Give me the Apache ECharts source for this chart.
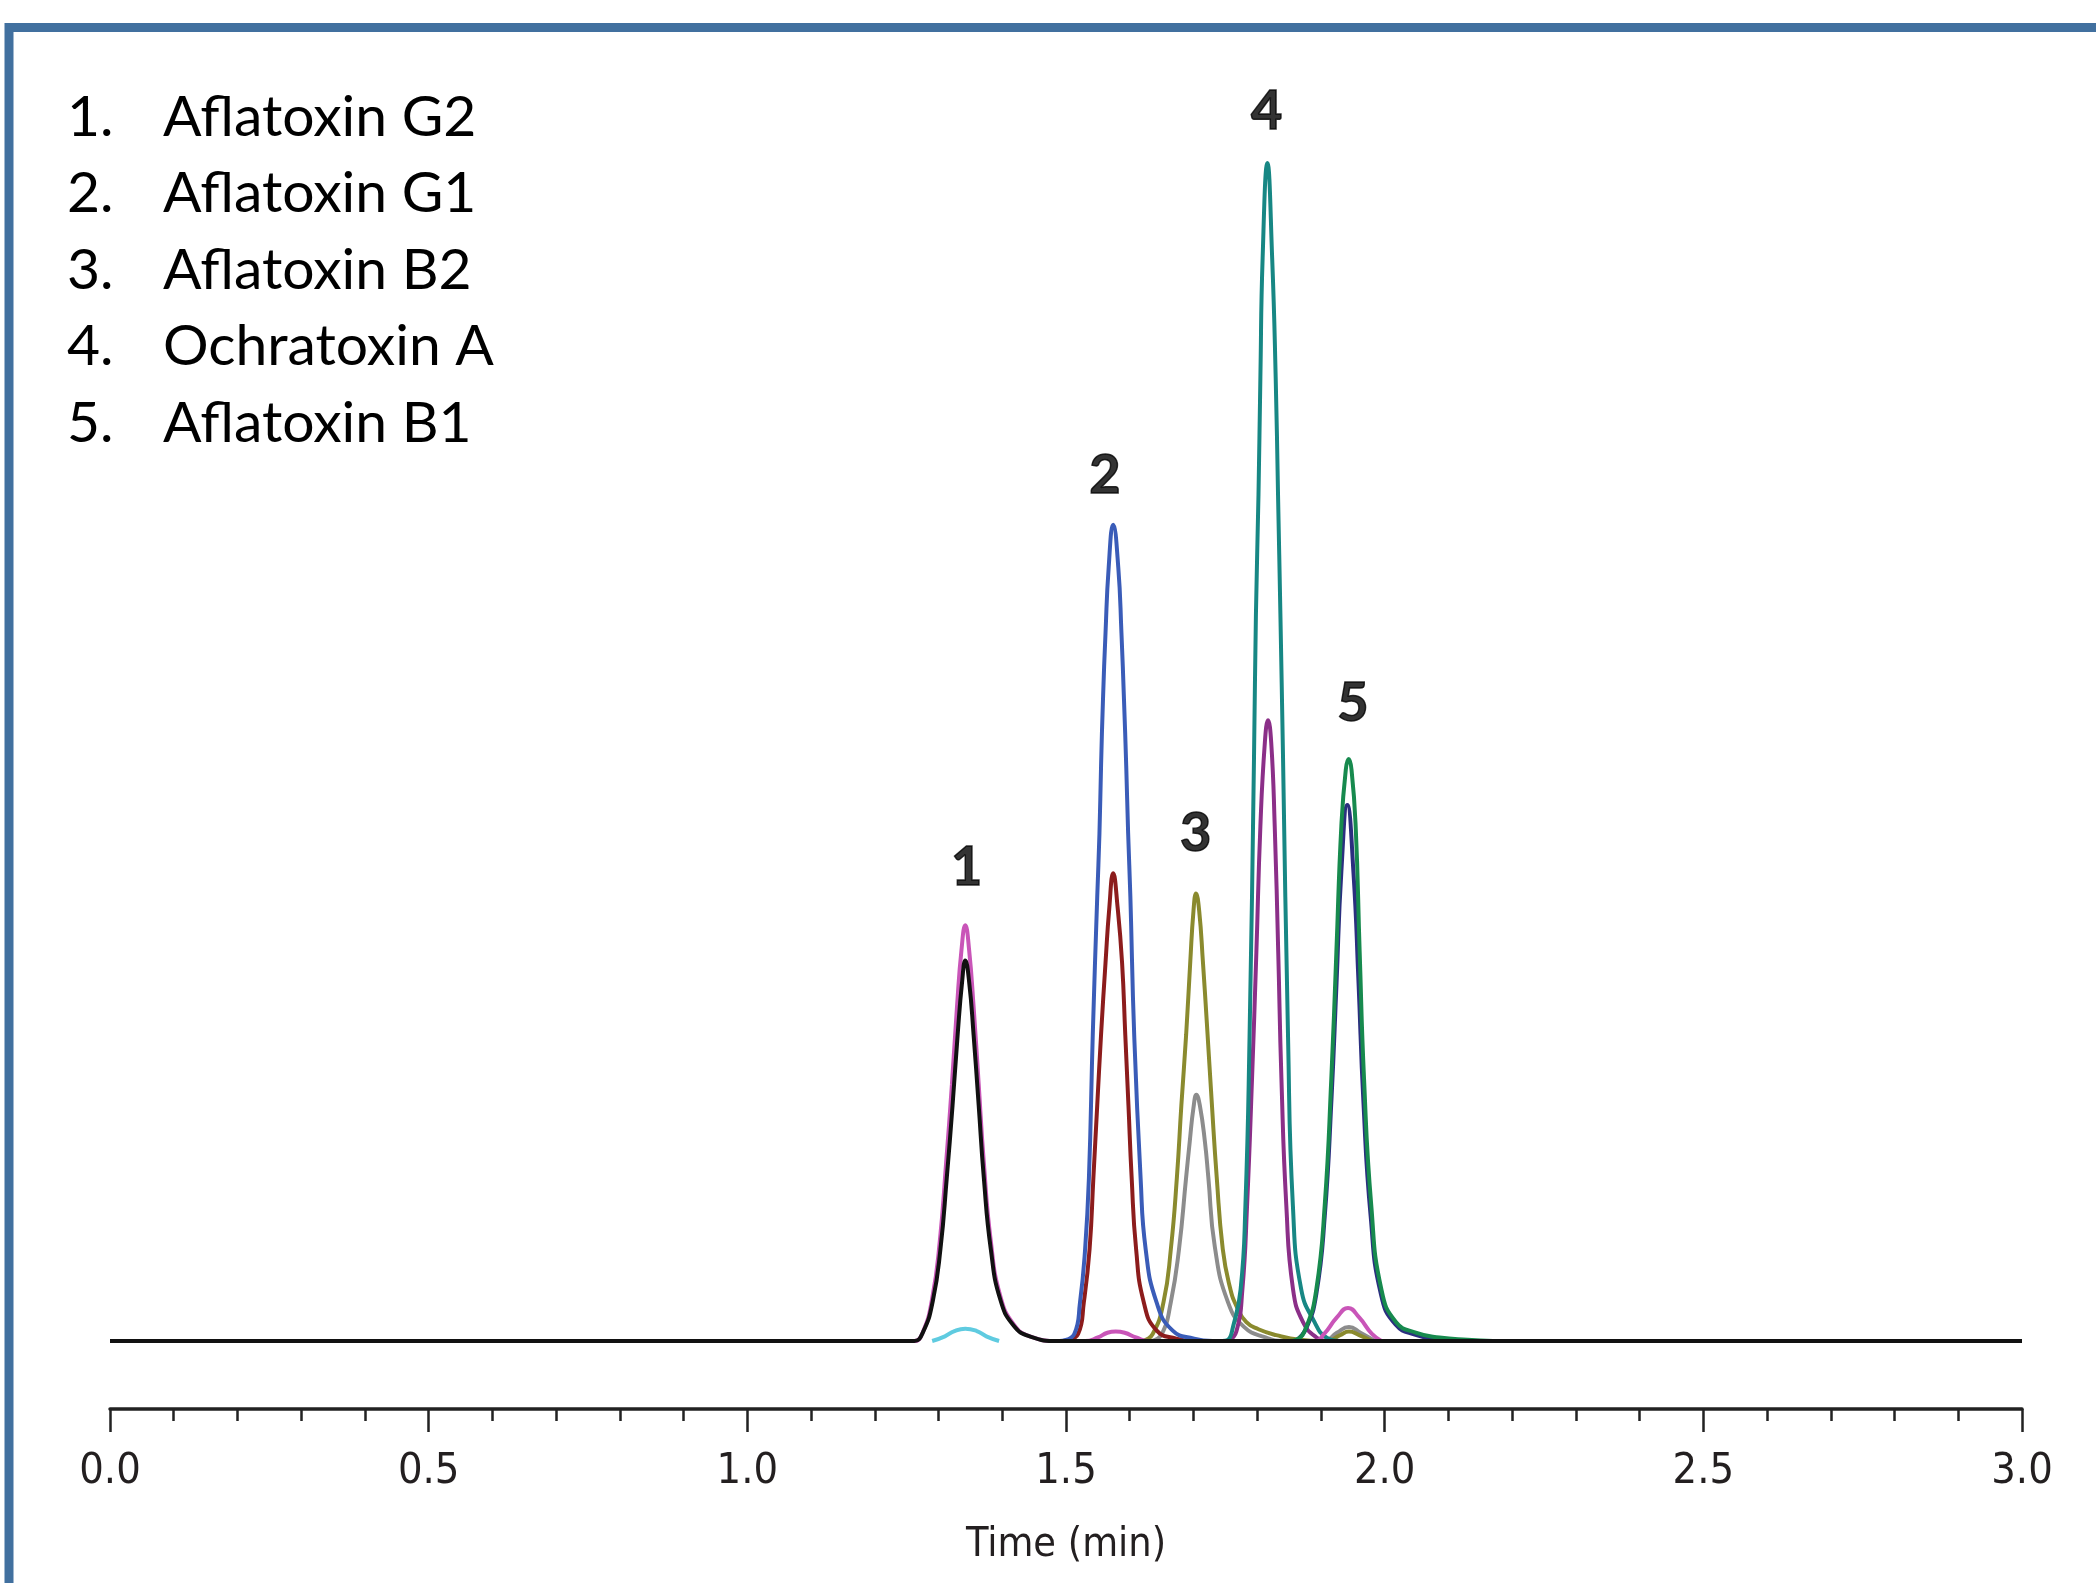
<!DOCTYPE html>
<html>
<head>
<meta charset="utf-8">
<title>Mycotoxin MRM chromatogram</title>
<script src="https://cdn.jsdelivr.net/npm/echarts@6/dist/echarts.min.js"></script>
<style>
  html, body { margin: 0; padding: 0; background: #fff; }
  #chart-box { width: 2096px; height: 1583px; }
</style>
</head>
<body>
<div id="chart-box"></div>
<script>
// peak list in the top-left corner
var peakNames = ['Aflatoxin G2', 'Aflatoxin G1', 'Aflatoxin B2', 'Ochratoxin A', 'Aflatoxin B1'];

// peak numbers, placed above each peak: [time, height, text]
var peakLabels = [[1.344, 40.2, '1'], [1.561, 73.5, '2'], [1.7035, 43.1, '3'], [1.815, 104.4, '4'], [1.950, 54.1, '5']];

// time axis (min)
var timeMin = 0, timeMax = 3, timeStep = 0.5;

// traces: [time (min), relative intensity]
var cyanTrace = [[1.29, 0], [1.31, 0.4], [1.325, 0.85], [1.342, 1.05], [1.36, 0.85], [1.375, 0.4], [1.395, 0]];
var grayTrace = [[1.635, 0], [1.6504, 0.6], [1.6645, 3.3], [1.6773, 7.8], [1.6885, 13.9], [1.6941, 16.9], [1.700, 19.8], [1.7046, 20.9], [1.710, 20.0], [1.718, 16.9], [1.7233, 13.9], [1.7335, 8.0], [1.7541, 3.3], [1.7793, 1.2], [1.813, 0.3], [1.84, 0],
  [1.905, 0], [1.925, 0.7], [1.944, 1.2], [1.962, 0.7], [1.985, 0]];
var oliveTrace = [[1.62, 0], [1.636, 0.6], [1.653, 3.3], [1.6645, 7.8], [1.674, 13.9], [1.681, 20.0], [1.6885, 26.0], [1.695, 32.2], [1.700, 36.5], [1.704, 38.0], [1.709, 36.5], [1.7148, 32.2], [1.721, 27.0], [1.729, 20.0], [1.7365, 13.9], [1.746, 7.8], [1.757, 4.6], [1.768, 2.9], [1.783, 1.6], [1.802, 1.0], [1.830, 0.5], [1.867, 0.1], [1.90, 0],
  [1.91, 0], [1.93, 0.5], [1.944, 0.8], [1.96, 0.5], [1.98, 0]];
var redTrace = [[1.495, 0], [1.519, 0.6], [1.528, 3.3], [1.537, 7.8], [1.543, 13.9], [1.549, 20.0], [1.555, 26.0], [1.562, 32.1], [1.568, 36.8], [1.574, 39.7], [1.581, 36.8], [1.588, 32.1], [1.593, 26.0], [1.598, 20.0], [1.603, 13.9], [1.610, 7.8], [1.622, 3.3], [1.642, 0.9], [1.673, 0.2], [1.70, 0]];
var blueTrace = [[1.49, 0], [1.513, 0.6], [1.522, 3.3], [1.530, 7.8], [1.536, 13.9], [1.542, 26.0], [1.549, 37.7], [1.5525, 43.1], [1.555, 48.8], [1.558, 54.4], [1.562, 60.1], [1.567, 65.7], [1.574, 69.3], [1.582, 65.7], [1.587, 60.1], [1.591, 54.4], [1.5945, 48.8], [1.5975, 43.1], [1.601, 37.7], [1.607, 26.0], [1.617, 13.9], [1.625, 7.8], [1.642, 3.3], [1.667, 0.9], [1.701, 0.2], [1.73, 0]];
var purpleTrace = [[1.755, 0], [1.7673, 0.8], [1.7768, 4.4], [1.7841, 11.5], [1.7919, 22.3], [1.7987, 33.0], [1.805, 43.7], [1.812, 50.8], [1.817, 52.7], [1.822, 50.8], [1.8275, 43.7], [1.833, 33.0], [1.838, 22.3], [1.8457, 11.5], [1.8562, 4.4], [1.8719, 1.6], [1.893, 0.3], [1.91, 0]];
var tealTrace = [[1.745, 0], [1.754, 0.1], [1.762, 1.2], [1.774, 4.4], [1.7815, 11.5], [1.788, 25.8], [1.795, 49.6], [1.798, 61.7], [1.802, 71.8], [1.805, 81.8], [1.8085, 91.9], [1.816, 100], [1.8235, 91.9], [1.829, 81.8], [1.8327, 71.8], [1.8364, 61.7], [1.8405, 49.6], [1.8484, 25.8], [1.856, 11.5], [1.869, 4.4], [1.890, 1.6], [1.9085, 0.3], [1.93, 0]];
var navyTrace = [[1.86, 0], [1.8771, 1.1], [1.8928, 4.0], [1.906, 10.6], [1.9165, 20.5], [1.9245, 30.4], [1.932, 39.8], [1.9414, 45.5], [1.951, 39.8], [1.959, 30.4], [1.9665, 20.5], [1.978, 10.6], [1.994, 4.0], [2.017, 1.4], [2.05, 0.5], [2.09, 0]];
var greenTrace = [[1.85, 0], [1.8614, 0.1], [1.8771, 1.2], [1.8928, 4.4], [1.9059, 11.5], [1.9163, 22.3], [1.9242, 33.0], [1.932, 43.7], [1.939, 48.5], [1.9435, 49.4], [1.948, 48.5], [1.9545, 43.7], [1.9608, 33.0], [1.9676, 22.3], [1.979, 11.5], [1.9948, 4.4], [2.018, 1.6], [2.05, 0.7], [2.086, 0.3], [2.13, 0.1], [2.17, 0]];
var magentaTrace = [[1.25, 0], [1.262, 0], [1.275, 0.7], [1.290, 3.6], [1.302, 8.5], [1.312, 15.2], [1.321, 21.8], [1.329, 28.4], [1.336, 33.2], [1.342, 35.3], [1.348, 33.2], [1.355, 28.4], [1.363, 21.8], [1.371, 15.2], [1.382, 8.5], [1.397, 3.8], [1.418, 1.4], [1.443, 0.4], [1.49, 0],
  [1.53, 0], [1.55, 0.3], [1.565, 0.7], [1.578, 0.8], [1.592, 0.7], [1.61, 0.3], [1.63, 0],
  [1.89, 0], [1.905, 0.6], [1.925, 2.0], [1.9425, 2.8], [1.96, 2.0], [1.98, 0.6], [1.995, 0]];
var blackTrace = [[0, 0], [1.25, 0], [1.262, 0], [1.276, 0.8], [1.291, 3.4], [1.303, 7.8], [1.313, 13.9], [1.322, 20.0], [1.330, 26.0], [1.337, 30.5], [1.342, 32.3], [1.348, 30.5], [1.355, 26.0], [1.363, 20.0], [1.371, 13.9], [1.382, 7.8], [1.397, 3.5], [1.418, 1.3], [1.443, 0.4], [1.488, 0], [1.6, 0], [3.0, 0]];

// drawing order: later traces sit on top
var traces = [
  { data: cyanTrace, color: '#5fcbe0' },
  { data: grayTrace, color: '#8c8c8c' },
  { data: oliveTrace, color: '#8a8a2e' },
  { data: redTrace, color: '#8c1c1c' },
  { data: blueTrace, color: '#3a5cb8' },
  { data: purpleTrace, color: '#8b2f88' },
  { data: tealTrace, color: '#178784' },
  { data: navyTrace, color: '#2b2f7f' },
  { data: greenTrace, color: '#178a4e' },
  { data: magentaTrace, color: '#c955b8' },
  { data: blackTrace, color: '#111111' }
];

var axisFont = "'DejaVu Sans Condensed', 'Roboto Condensed', 'Liberation Sans Narrow', Roboto, sans-serif";

var myChart = echarts.init(document.getElementById('chart-box'));

var series = traces.map(function (t) {
  return {
    type: 'line',
    data: t.data,
    symbol: 'none',
    smooth: 0.5,
    silent: true,
    lineStyle: { color: t.color, width: 4 }
  };
});

series.push({
  type: 'scatter',
  data: peakLabels,
  symbolSize: 0,
  silent: true,
  clip: false,
  label: {
    show: true,
    position: 'inside',
    formatter: function (p) { return p.value[2]; },
    fontFamily: 'Lato',
    fontWeight: 'bold',
    fontSize: 54,
    color: '#000',
    textBorderColor: '#000',
    textBorderWidth: 1.5
  }
});

// the numbered list
var listItems = [];
peakNames.forEach(function (name, i) {
  var y = 117.6 + i * 76.5;
  listItems.push({
    type: 'text', x: 67, y: y,
    style: { text: (i + 1) + '.', fontFamily: 'Lato', fontSize: 57, fill: '#000', verticalAlign: 'middle' }
  });
  listItems.push({
    type: 'text', x: 163, y: y,
    style: { text: name, fontFamily: 'Lato', fontSize: 57, fill: '#000', verticalAlign: 'middle' }
  });
});

var option = {
  animation: false,
  backgroundColor: '#fff',
  grid: { left: 110, right: 74, top: 45.2, bottom: 174 },
  xAxis: {
    type: 'value',
    min: timeMin,
    max: timeMax,
    interval: timeStep,
    name: 'Time (min)',
    nameLocation: 'middle',
    nameGap: 116,
    nameTextStyle: { fontFamily: axisFont, fontSize: 41, color: '#231f20' },
    axisLine: { onZero: false, lineStyle: { color: '#222', width: 3.5 } },
    axisTick: { show: true, length: 23, lineStyle: { color: '#222', width: 2.5 } },
    minorTick: { show: true, splitNumber: 5, length: 12, lineStyle: { color: '#222', width: 2.5 } },
    splitLine: { show: false },
    axisLabel: {
      margin: 41,
      fontFamily: axisFont,
      fontSize: 43,
      color: '#231f20',
      formatter: function (v) { return v.toFixed(1); }
    }
  },
  yAxis: {
    type: 'value',
    min: -5.77,
    max: 110,
    show: false
  },
  graphic: [
    {
      type: 'rect',
      shape: { x: 9, y: 27.5, width: 2300, height: 1800 },
      style: { fill: 'none', stroke: '#41709f', lineWidth: 9 },
      silent: true
    }
  ].concat(listItems),
  series: series
};

myChart.setOption(option);
</script>
</body>
</html>
